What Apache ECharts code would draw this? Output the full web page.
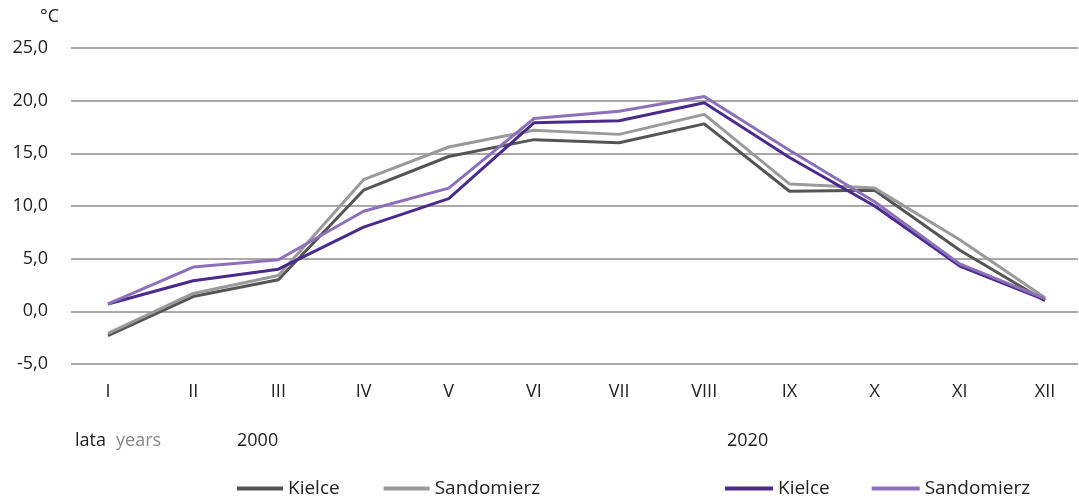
<!DOCTYPE html>
<html><head><meta charset="utf-8">
<script src="https://cdn.jsdelivr.net/npm/echarts@6/dist/echarts.min.js"></script>
<style>html,body{margin:0;padding:0;background:#fff}#c{width:1079px;height:498px}</style>
</head><body><div id="c"></div>
<script>
const months = ['I','II','III','IV','V','VI','VII','VIII','IX','X','XI','XII'];
const kielce2000 = [-2.3, 1.4, 3.0, 11.5, 14.7, 16.3, 16.0, 17.8, 11.4, 11.5, 5.8, 1.0];
const sandomierz2000 = [-2.1, 1.7, 3.4, 12.5, 15.6, 17.2, 16.8, 18.7, 12.1, 11.7, 6.8, 1.3];
const kielce2020 = [0.7, 2.9, 4.0, 8.0, 10.7, 17.9, 18.1, 19.8, 14.6, 10.0, 4.3, 1.1];
const sandomierz2020 = [0.7, 4.2, 4.9, 9.5, 11.7, 18.3, 19.0, 20.4, 15.3, 10.4, 4.5, 1.2];
const yTicks = {min: -5, max: 25, step: 5};

const FONT = '"Open Sans", "Noto Sans", sans-serif';
const chart = echarts.init(document.getElementById('c'));
const legendText = {fontFamily: FONT, fontSize: 19, color: '#222'};
chart.setOption({
  animation: false,
  grid: [
    {left: 71, right: 1, top: 48, bottom: 134},
    {left: 108, right: 34, top: 48, bottom: 134}
  ],
  xAxis: [
    {type: 'value', gridIndex: 0, show: false, min: 0, max: 1},
    {type: 'category', gridIndex: 1, data: months, boundaryGap: false,
     axisLine: {show: false}, axisTick: {show: false}, splitLine: {show: false},
     axisLabel: {margin: 19, fontFamily: FONT, fontSize: 18, color: '#222'}}
  ],
  yAxis: [
    {type: 'value', gridIndex: 0, min: yTicks.min, max: yTicks.max, interval: yTicks.step,
     axisLine: {show: false}, axisTick: {show: false},
     splitLine: {lineStyle: {color: '#8c8c8c', width: 1.5}},
     axisLabel: {margin: 23, fontFamily: FONT, fontSize: 18, color: '#222',
       formatter: v => v.toFixed(1).replace('.', ',')}},
    {type: 'value', gridIndex: 1, min: yTicks.min, max: yTicks.max, interval: yTicks.step, show: false}
  ],
  legend: [
    {left: 232, top: 474, icon: 'rect', itemWidth: 46, itemHeight: 4, itemGap: 44,
     textStyle: legendText, data: ['Kielce 2000', 'Sandomierz 2000'],
     formatter: n => n.split(' ')[0]},
    {left: 720, top: 474, icon: 'rect', itemWidth: 48, itemHeight: 4, itemGap: 42,
     textStyle: legendText, data: ['Kielce 2020', 'Sandomierz 2020'],
     formatter: n => n.split(' ')[0]}
  ],
  graphic: [
    {type: 'text', left: 40, top: 8, style: {text: '°C', fontFamily: FONT, fontSize: 18, fill: '#222'}},
    {type: 'text', left: 75, top: 432, style: {text: 'lata', fontFamily: FONT, fontSize: 18, fill: '#222'}},
    {type: 'text', left: 116, top: 432, style: {text: 'years', fontFamily: FONT, fontSize: 18, fill: '#888'}},
    {type: 'text', left: 237, top: 432, style: {text: '2000', fontFamily: FONT, fontSize: 18, fill: '#222'}},
    {type: 'text', left: 727, top: 432, style: {text: '2020', fontFamily: FONT, fontSize: 18, fill: '#222'}}
  ],
  series: [
    {name: 'Kielce 2000', type: 'line', xAxisIndex: 1, yAxisIndex: 1, data: kielce2000, symbol: 'none',
     color: '#555555', lineStyle: {width: 3, color: '#555555'}},
    {name: 'Sandomierz 2000', type: 'line', xAxisIndex: 1, yAxisIndex: 1, data: sandomierz2000, symbol: 'none',
     color: '#9a9a9a', lineStyle: {width: 3, color: '#9a9a9a'}},
    {name: 'Kielce 2020', type: 'line', xAxisIndex: 1, yAxisIndex: 1, data: kielce2020, symbol: 'none',
     color: '#4b2a8e', lineStyle: {width: 3, color: '#4b2a8e'}},
    {name: 'Sandomierz 2020', type: 'line', xAxisIndex: 1, yAxisIndex: 1, data: sandomierz2020, symbol: 'none',
     color: '#8c70ba', lineStyle: {width: 3, color: '#8c70ba'}}
  ]
});
</script></body></html>
